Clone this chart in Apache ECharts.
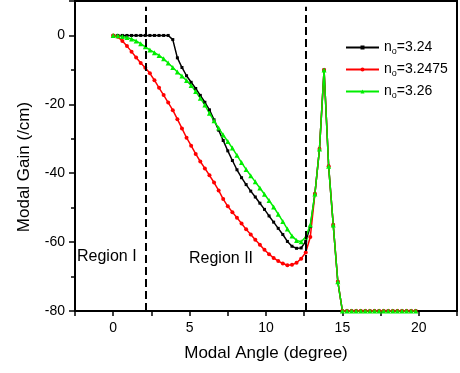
<!DOCTYPE html>
<html>
<head>
<meta charset="utf-8">
<script src="https://cdn.jsdelivr.net/npm/echarts@6/dist/echarts.min.js"></script>
<style>
  html, body { margin: 0; padding: 0; background: #fff; }
  #chart { width: 460px; height: 373px; }
</style>
</head>
<body>
<div id="chart"></div>
<script>
// modal angle (degree)
const angles = [0, 0.3, 0.6, 0.9, 1.2, 1.5, 1.8, 2.1, 2.4, 2.7,
  3.0, 3.3, 3.6, 3.9, 4.2, 4.5, 4.8, 5.1, 5.4, 5.7,
  6.0, 6.3, 6.6, 6.9, 7.2, 7.5, 7.8, 8.1, 8.4, 8.7,
  9.0, 9.3, 9.6, 9.9, 10.2, 10.5, 10.8, 11.1, 11.4, 11.7,
  12.0, 12.3, 12.6, 12.9, 13.2, 13.5, 13.8, 14.1, 14.4, 14.7,
  15.0, 15.3, 15.6, 15.9, 16.2, 16.5, 16.8, 17.1, 17.4, 17.7,
  18.0, 18.3, 18.6, 18.9, 19.2, 19.5, 19.8];

// modal gain (/cm), n0 = 3.24
const gain324 = [0, 0, 0, 0, 0, 0, 0, 0, 0, 0,
  0, 0, 0, -1.2, -6.5, -9.3, -11.7, -13.6, -15.4, -17.4,
  -19.4, -21.6, -24.5, -27.5, -30.5, -33.5, -36.3, -39.0, -41.3, -43.3,
  -45.2, -46.9, -48.7, -50.5, -52.4, -54.2, -56.0, -57.8, -59.8, -61.2,
  -61.8, -61.7, -59.8, -55.5, -46, -33, -10, -38, -55, -71.5,
  -80, -80, -80, -80, -80, -80, -80, -80, -80, -80,
  -80, -80, -80, -80, -80, -80, -80];

// n0 = 3.2475
const gain32475 = [0, -0.4, -1.6, -3.1, -4.7, -6.4, -8.0, -9.4, -11.0, -13.0,
  -15.2, -17.3, -19.5, -21.7, -24.3, -27.0, -29.7, -32.0, -34.4, -36.6,
  -38.6, -40.6, -42.7, -45.0, -47.5, -49.6, -51.3, -52.9, -54.6, -56.3,
  -57.8, -59.3, -60.8, -62.2, -63.5, -64.6, -65.5, -66.2, -66.7, -66.6,
  -66.0, -64.8, -63.0, -58.5, -46, -33, -10, -38, -55, -71.5,
  -80, -80, -80, -80, -80, -80, -80, -80, -80, -80,
  -80, -80, -80, -80, -80, -80, -80];

// n0 = 3.26
const gain326 = [0, -0.1, -0.3, -0.6, -1.0, -1.6, -2.4, -3.3, -4.2, -5.0,
  -5.8, -6.8, -8.0, -9.3, -10.6, -11.8, -13.1, -14.5, -16.3, -18.2,
  -20.2, -22.6, -24.8, -26.9, -28.9, -30.8, -32.7, -34.8, -36.9, -38.9,
  -40.7, -42.5, -44.3, -46.1, -47.9, -49.8, -51.9, -54.0, -56.2, -58.2,
  -59.5, -59.9, -58.5, -55, -46, -33, -10, -38, -55, -71.5,
  -80, -80, -80, -80, -80, -80, -80, -80, -80, -80,
  -80, -80, -80, -80, -80, -80, -80];

const seriesNames = ['=3.24', '=3.2475', '=3.26'];
const xTickLabels = [0, 5, 10, 15, 20];
const regionBounds = [2.1, 12.6];
const regionNames = ['Region I', 'Region II'];

const FONT = 'Liberation Sans, Arial, Helvetica, sans-serif';

const chart = echarts.init(document.getElementById('chart'));

const pairs = (ys) => angles.map((x, i) => [x, ys[i]]);

const curve = (name, ys, color, symbol, size) => ({
    name: name,
    type: 'line',
    data: pairs(ys),
    symbol: symbol,
    symbolSize: size,
    showAllSymbol: true,
    lineStyle: {color: color, width: 1.5},
    itemStyle: {color: color},
    z: 3
});

// dashed region borders
const borderLines = {
    type: 'line',
    data: [],
    silent: true,
    markLine: {
        symbol: 'none',
        silent: true,
        label: {show: false},
        lineStyle: {color: '#000', type: [8, 4], width: 2},
        data: regionBounds.map(x => [{coord: [x, -80]}, {coord: [x, 8.3]}])
    },
    z: 5
};

const option = {
    animation: false,
    grid: {
        left: 75, right: 1, top: 1, bottom: 62,
        show: true, borderColor: '#000', borderWidth: 2
    },
    legend: {
        orient: 'vertical',
        left: 340,
        top: 31,
        itemWidth: 33,
        itemHeight: 5,
        itemGap: 2,
        data: seriesNames,
        formatter: (name) => '{n|n}{s|o}{n|' + name + '}',
        textStyle: {
            rich: {
                n: {fontSize: 14, color: '#000', fontFamily: FONT, lineHeight: 17},
                s: {fontSize: 9, color: '#000', fontFamily: FONT, verticalAlign: 'bottom', lineHeight: 17, padding: [11, 0, 0, 0]}
            }
        }
    },
    xAxis: {
        type: 'value',
        min: -2.5,
        max: 22.5,
        interval: 2.5,
        name: 'Modal Angle (degree)',
        nameLocation: 'middle',
        nameGap: 34,
        nameTextStyle: {fontSize: 17, color: '#000', fontFamily: FONT},
        axisLine: {onZero: false, lineStyle: {color: '#000', width: 2}},
        axisTick: {length: 5, lineStyle: {color: '#000', width: 1.5}},
        axisLabel: {
            margin: 10,
            fontSize: 14,
            color: '#000',
            fontFamily: FONT,
            formatter: (v) => xTickLabels.indexOf(v) >= 0 ? String(v) : ''
        },
        splitLine: {show: false}
    },
    yAxis: {
        type: 'value',
        min: -80,
        max: 10,
        interval: 20,
        axisLine: {show: true, onZero: false, lineStyle: {color: '#000', width: 2}},
        axisTick: {show: true, length: 6, lineStyle: {color: '#000', width: 1.5}},
        minorTick: {show: true, splitNumber: 2, length: 4, lineStyle: {color: '#000', width: 1.5}},
        axisLabel: {margin: 10, fontSize: 14, color: '#000', fontFamily: FONT, showMaxLabel: false},
        splitLine: {show: false}
    },
    graphic: [
        {
            type: 'text',
            x: 24, y: 167, rotation: Math.PI / 2,
            style: {text: 'Modal Gain (/cm)', fontSize: 17, fill: '#000', fontFamily: FONT,
                align: 'center', verticalAlign: 'middle'}
        },
        {
            type: 'text', x: 77, y: 257,
            style: {text: regionNames[0], fontSize: 16, fill: '#000', fontFamily: FONT, verticalAlign: 'middle'}
        },
        {
            type: 'text', x: 189, y: 259,
            style: {text: regionNames[1], fontSize: 16, fill: '#000', fontFamily: FONT, verticalAlign: 'middle'}
        }
    ],
    series: [
        curve(seriesNames[0], gain324, '#000000', 'rect', 3),
        curve(seriesNames[1], gain32475, '#ff0000', 'circle', 4),
        curve(seriesNames[2], gain326, '#00ee00', 'triangle', 5),
        borderLines
    ]
};

chart.setOption(option);
</script>
</body>
</html>
